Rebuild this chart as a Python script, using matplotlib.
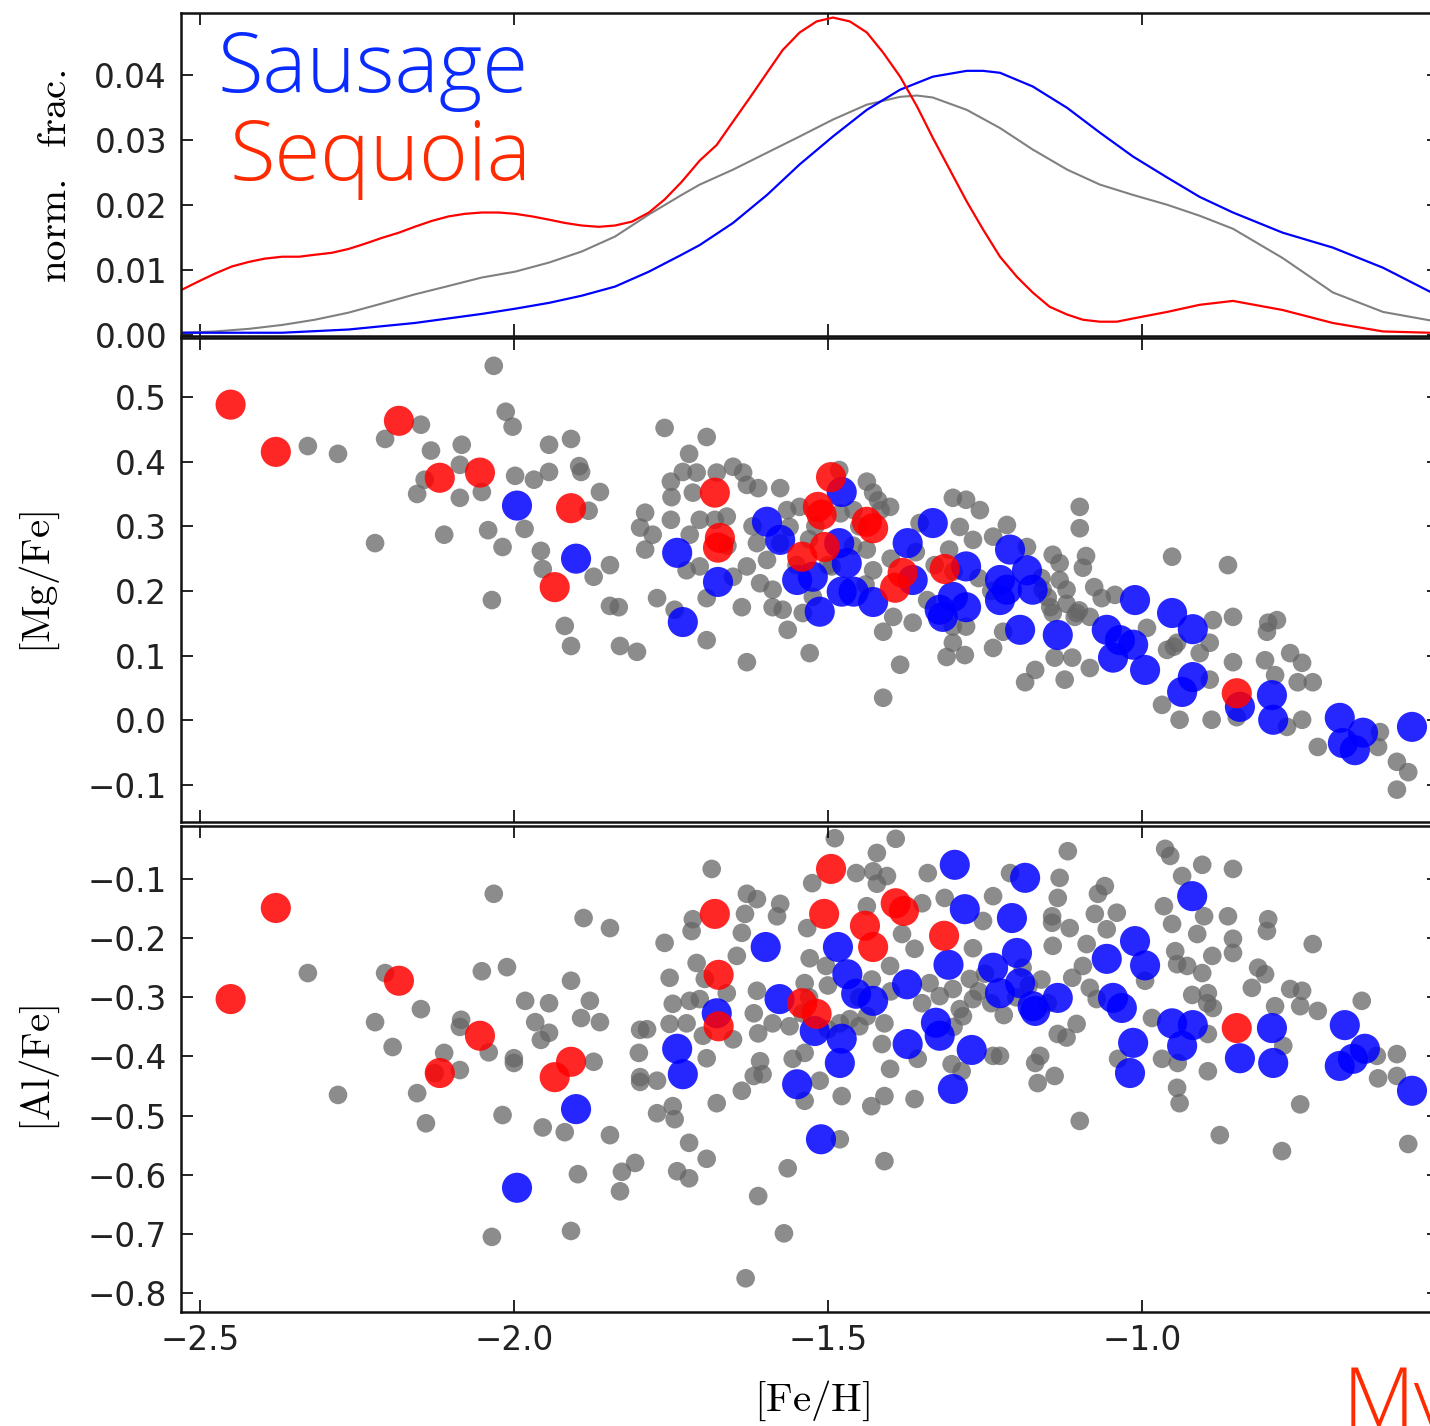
import matplotlib
matplotlib.use('Agg')
import matplotlib.pyplot as plt
from matplotlib.ticker import FuncFormatter

plt.rcParams['mathtext.fontset'] = 'cm'

# ---- top panel: normalised [Fe/H] distributions ----
red_kde_feh = [-2.529, -2.502, -2.476, -2.449, -2.422, -2.397, -2.369, -2.342, -2.317, -2.290,
               -2.263, -2.237, -2.210, -2.183, -2.158, -2.131, -2.104, -2.078, -2.051, -2.024,
               -1.998, -1.971, -1.944, -1.919, -1.892, -1.865, -1.839, -1.812, -1.785, -1.760,
               -1.733, -1.704, -1.677, -1.651, -1.624, -1.597, -1.572, -1.545, -1.518, -1.492,
               -1.465, -1.438, -1.412, -1.385, -1.358, -1.333, -1.306, -1.279, -1.253, -1.226,
               -1.199, -1.174, -1.147, -1.119, -1.094, -1.067, -1.040, -1.014, -0.960, -0.908,
               -0.855, -0.776, -0.696, -0.616, -0.541]
red_kde = [0.0069, 0.0082, 0.0094, 0.0105, 0.0112, 0.0117, 0.0120, 0.0120, 0.0123, 0.0126,
           0.0132, 0.0140, 0.0149, 0.0157, 0.0166, 0.0175, 0.0182, 0.0186, 0.0188, 0.0188,
           0.0186, 0.0182, 0.0177, 0.0172, 0.0168, 0.0166, 0.0168, 0.0174, 0.0188, 0.0208,
           0.0235, 0.0268, 0.0292, 0.0328, 0.0365, 0.0403, 0.0438, 0.0465, 0.0482, 0.0488,
           0.0482, 0.0465, 0.0434, 0.0397, 0.0351, 0.0303, 0.0254, 0.0205, 0.0162, 0.0120,
           0.0089, 0.0065, 0.0043, 0.0031, 0.0023, 0.0020, 0.0020, 0.0025, 0.0035, 0.0046,
           0.0052, 0.0038, 0.0018, 0.0005, 0.0003]

blue_kde_feh = [-2.529, -2.369, -2.263, -2.158, -2.051, -1.998, -1.944, -1.892, -1.839, -1.785,
                -1.733, -1.704, -1.651, -1.597, -1.545, -1.492, -1.438, -1.385, -1.333, -1.279,
                -1.253, -1.226, -1.174, -1.119, -1.067, -1.014, -0.960, -0.908, -0.855, -0.776,
                -0.696, -0.616, -0.541]
blue_kde = [0.0003, 0.0003, 0.0008, 0.0018, 0.0032, 0.0040, 0.0049, 0.0060, 0.0074, 0.0097,
            0.0123, 0.0138, 0.0172, 0.0215, 0.0262, 0.0305, 0.0346, 0.0377, 0.0397, 0.0406,
            0.0406, 0.0403, 0.0382, 0.0349, 0.0311, 0.0274, 0.0242, 0.0212, 0.0188, 0.0157,
            0.0134, 0.0103, 0.0066]

all_kde_feh = [-2.529, -2.476, -2.422, -2.369, -2.317, -2.263, -2.210, -2.158, -2.104, -2.051,
               -1.998, -1.944, -1.892, -1.839, -1.785, -1.733, -1.704, -1.651, -1.597, -1.545,
               -1.492, -1.438, -1.385, -1.358, -1.333, -1.279, -1.226, -1.174, -1.119, -1.067,
               -1.014, -0.960, -0.908, -0.855, -0.776, -0.696, -0.616, -0.541]
all_kde = [0.0003, 0.0005, 0.0009, 0.0015, 0.0023, 0.0034, 0.0048, 0.0062, 0.0075, 0.0088,
           0.0097, 0.0111, 0.0128, 0.0151, 0.0185, 0.0215, 0.0231, 0.0254, 0.0280, 0.0305,
           0.0331, 0.0354, 0.0366, 0.0368, 0.0365, 0.0346, 0.0318, 0.0285, 0.0254, 0.0231,
           0.0215, 0.0200, 0.0183, 0.0163, 0.0118, 0.0065, 0.0035, 0.0022]

# ---- middle panel: [Mg/Fe] vs [Fe/H] ----
gray_mg_feh = [
    -2.328, -2.280, -2.205, -2.148, -2.132, -2.083, -2.086, -2.142, -2.154, -2.086, -2.051, -2.032,
    -2.013, -2.002, -1.998, -1.968, -1.944, -1.909, -1.944, -1.896, -1.893, -1.863, -1.881, -2.221,
    -2.111, -2.041, -2.018, -1.983, -1.957, -1.954, -1.873, -1.847, -2.035, -1.919, -1.909, -1.847,
    -1.833, -1.831,
    -1.760, -1.693, -1.721, -1.750, -1.731, -1.709, -1.749, -1.715, -1.677, -1.651, -1.635, -1.629,
    -1.611, -1.576, -1.791, -1.750, -1.799, -1.779, -1.720, -1.704, -1.661, -1.791, -1.725, -1.704,
    -1.651, -1.629, -1.608, -1.588, -1.597, -1.613, -1.565, -1.545, -1.561, -1.576, -1.772, -1.744,
    -1.693, -1.637, -1.572, -1.540, -1.564, -1.804, -1.693, -1.629, -1.529, -1.412, -1.385, -1.412,
    -1.396, -1.365, -1.438, -1.482, -1.428, -1.401, -1.416, -1.459, -1.438, -1.428, -1.354, -1.301,
    -1.280, -1.258, -1.290, -1.269, -1.215, -1.237, -1.183, -1.307, -1.342, -1.301, -1.280, -1.301,
    -1.311, -1.282, -1.237, -1.221, -1.524, -1.494, -1.588,
    -1.52, -1.48, -1.45, -1.46, -1.50, -1.44, -1.40, -1.53, -1.42, -1.36, -1.33, -1.26, -1.24,
    -1.30, -1.16, -1.15, -1.12, -1.10, -1.55, -1.62, -1.66, -1.68,
    -1.099, -1.099, -1.142, -1.131, -1.089, -1.094, -0.952, -0.863, -1.076, -1.064, -1.043, -1.120,
    -1.142, -1.107, -1.083, -0.992, -0.887, -0.855, -0.799, -0.801, -0.960, -0.944, -0.892, -0.764,
    -0.745, -0.855, -0.804, -0.788, -0.752, -0.728, -0.908, -1.139, -1.111, -1.170, -1.186, -1.123,
    -1.083, -0.968, -0.940, -0.889, -0.849, -0.745, -0.769, -0.720, -0.624, -0.621, -0.594, -0.576,
    -0.594, -0.892, -0.949, -0.785, -1.131, -1.158, -1.146, -1.104]
gray_mg = [
    0.424, 0.412, 0.435, 0.457, 0.417, 0.426, 0.395, 0.372, 0.350, 0.344, 0.353, 0.548,
    0.477, 0.454, 0.378, 0.372, 0.426, 0.435, 0.384, 0.393, 0.384, 0.353, 0.324, 0.274,
    0.287, 0.294, 0.268, 0.296, 0.262, 0.234, 0.222, 0.240, 0.186, 0.146, 0.115, 0.177,
    0.175, 0.115,
    0.452, 0.438, 0.412, 0.369, 0.384, 0.383, 0.345, 0.352, 0.383, 0.392, 0.383, 0.364,
    0.359, 0.359, 0.321, 0.310, 0.298, 0.287, 0.287, 0.310, 0.315, 0.264, 0.232, 0.238,
    0.222, 0.238, 0.212, 0.202, 0.248, 0.274, 0.325, 0.330, 0.299, 0.274, 0.189, 0.171,
    0.189, 0.175, 0.171, 0.166, 0.140, 0.106, 0.124, 0.090, 0.104, 0.035, 0.086, 0.137,
    0.160, 0.151, 0.369, 0.387, 0.352, 0.330, 0.325, 0.325, 0.264, 0.232, 0.305, 0.344,
    0.341, 0.325, 0.299, 0.279, 0.302, 0.284, 0.268, 0.264, 0.186, 0.145, 0.145, 0.120,
    0.098, 0.101, 0.112, 0.137, 0.191, 0.238, 0.175,
    0.30, 0.32, 0.30, 0.27, 0.24, 0.21, 0.25, 0.28, 0.34, 0.26, 0.24, 0.22, 0.20,
    0.23, 0.22, 0.19, 0.18, 0.17, 0.24, 0.30, 0.27, 0.31,
    0.330, 0.297, 0.256, 0.243, 0.254, 0.236, 0.253, 0.240, 0.206, 0.189, 0.194, 0.202,
    0.166, 0.160, 0.160, 0.143, 0.155, 0.160, 0.151, 0.137, 0.109, 0.120, 0.120, 0.104,
    0.089, 0.090, 0.093, 0.070, 0.059, 0.059, 0.104, 0.097, 0.097, 0.078, 0.059, 0.063,
    0.081, 0.024, 0.001, 0.001, 0.005, 0.001, -0.010, -0.041, -0.041, -0.018, -0.064, -0.080,
    -0.107, 0.063, 0.114, 0.155, 0.217, 0.202, 0.175, 0.166]

blue_mg_feh = [-1.995, -1.901, -1.740, -1.675, -1.731, -1.597, -1.576, -1.478, -1.482, -1.470,
               -1.549, -1.524, -1.513, -1.478, -1.459, -1.428, -1.373, -1.365, -1.333, -1.322,
               -1.301, -1.280, -1.280, -1.210, -1.226, -1.183, -1.174, -1.226, -1.194, -1.317,
               -1.215, -1.134, -1.011, -0.952, -0.919, -1.056, -1.035, -1.014, -1.046, -0.995,
               -0.919, -0.936, -0.844, -0.793, -0.791, -0.685, -0.648, -0.680, -0.661, -0.570]
blue_mg = [0.332, 0.250, 0.259, 0.214, 0.152, 0.307, 0.279, 0.353, 0.274, 0.243,
           0.217, 0.222, 0.168, 0.199, 0.199, 0.183, 0.274, 0.217, 0.305, 0.171,
           0.191, 0.175, 0.238, 0.264, 0.217, 0.232, 0.202, 0.186, 0.140, 0.160,
           0.202, 0.132, 0.186, 0.166, 0.141, 0.140, 0.124, 0.117, 0.097, 0.078,
           0.067, 0.044, 0.021, 0.039, 0.001, 0.004, -0.019, -0.035, -0.046, -0.010]

red_mg_feh = [-2.451, -2.379, -2.183, -2.118, -2.054, -1.909, -1.935, -1.680, -1.672, -1.675,
              -1.495, -1.516, -1.510, -1.438, -1.428, -1.505, -1.541, -1.381, -1.393, -1.314,
              -0.849]
red_mg = [0.488, 0.415, 0.463, 0.375, 0.383, 0.328, 0.206, 0.352, 0.282, 0.267,
          0.376, 0.330, 0.318, 0.307, 0.297, 0.268, 0.253, 0.228, 0.205, 0.234,
          0.042]

# ---- bottom panel: [Al/Fe] vs [Fe/H] ----
gray_al_feh = [
    -2.328, -2.280, -2.205, -2.221, -2.193, -2.148, -2.111, -2.084, -2.086, -2.086, -2.126, -2.154,
    -2.140, -2.040, -2.051, -2.032, -2.011, -2.000, -2.000, -2.018, -2.035, -1.982, -1.944, -1.966,
    -1.944, -1.957, -1.909, -1.889, -1.847, -1.879, -1.893, -1.863, -1.873, -1.954, -1.919, -1.847,
    -1.898, -1.909, -1.828, -1.807, -1.831, -1.799, -1.801, -1.799, -1.799,
    -1.685, -1.629, -1.613, -1.576, -1.581, -1.632, -1.715, -1.717, -1.637, -1.760, -1.709, -1.645,
    -1.752, -1.696, -1.613, -1.747, -1.720, -1.704, -1.661, -1.788, -1.752, -1.725, -1.699, -1.651,
    -1.618, -1.611, -1.588, -1.693, -1.608, -1.618, -1.604, -1.772, -1.637, -1.677, -1.747, -1.772,
    -1.744, -1.556, -1.537, -1.513, -1.537, -1.537, -1.529, -1.533, -1.525, -1.489, -1.503, -1.500,
    -1.481, -1.478, -1.481, -1.564, -1.611, -1.570, -1.631, -1.721, -1.693, -1.740, -1.721, -1.410,
    -1.422, -1.392, -1.455, -1.428, -1.406, -1.422, -1.438, -1.382, -1.350, -1.341, -1.314, -1.237,
    -1.253, -1.362, -1.269, -1.401, -1.410, -1.414, -1.401, -1.362, -1.431, -1.410, -1.357, -1.303,
    -1.287, -1.237, -1.170, -1.166, -1.301, -1.274, -1.269, -1.285, -1.322, -1.338, -1.290, -1.450,
    -1.465, -1.438, -1.541, -1.561,
    -1.26, -1.24, -1.22, -1.20, -1.18, -1.16, -1.15, -1.19, -1.25, -1.45, -1.43, -1.50, -1.53,
    -1.40, -1.35, -1.30,
    -1.118, -1.131, -1.134, -1.210, -1.143, -1.143, -1.115, -1.059, -1.070, -1.075, -1.040, -1.056,
    -1.088, -1.142, -0.963, -0.955, -0.936, -0.904, -0.855, -0.965, -0.952, -0.912, -0.901, -0.863,
    -0.855, -0.855, -0.799, -0.801, -0.728, -0.947, -0.944, -0.928, -0.904, -0.888, -0.815, -0.804,
    -0.825, -0.920, -0.895, -0.896, -0.887, -0.895, -0.984, -0.968, -0.943, -0.895, -0.944, -0.940,
    -1.038, -0.995, -1.094, -1.111, -1.083, -1.072, -1.104, -1.134, -1.120, -1.162, -1.139, -1.226,
    -1.099, -0.876, -0.777, -0.748, -0.576, -0.594, -0.624, -0.594, -0.626, -0.650, -0.764, -0.745,
    -0.748, -0.720, -0.788, -0.775]
gray_al = [
    -0.259, -0.465, -0.259, -0.342, -0.384, -0.320, -0.394, -0.338, -0.350, -0.423, -0.428, -0.462,
    -0.513, -0.393, -0.256, -0.125, -0.249, -0.403, -0.411, -0.499, -0.705, -0.306, -0.310, -0.342,
    -0.360, -0.372, -0.272, -0.166, -0.183, -0.306, -0.335, -0.342, -0.409, -0.520, -0.528, -0.533,
    -0.599, -0.695, -0.595, -0.580, -0.628, -0.355, -0.394, -0.435, -0.443,
    -0.083, -0.125, -0.134, -0.142, -0.163, -0.159, -0.168, -0.188, -0.191, -0.208, -0.242, -0.230,
    -0.267, -0.269, -0.289, -0.311, -0.306, -0.303, -0.293, -0.354, -0.345, -0.344, -0.365, -0.371,
    -0.327, -0.361, -0.344, -0.403, -0.408, -0.433, -0.430, -0.441, -0.458, -0.479, -0.484, -0.496,
    -0.506, -0.404, -0.394, -0.441, -0.475, -0.276, -0.234, -0.183, -0.107, -0.031, -0.247, -0.354,
    -0.344, -0.467, -0.540, -0.589, -0.636, -0.699, -0.775, -0.546, -0.573, -0.594, -0.606, -0.577,
    -0.056, -0.032, -0.090, -0.087, -0.095, -0.108, -0.146, -0.193, -0.141, -0.090, -0.132, -0.129,
    -0.171, -0.218, -0.217, -0.247, -0.344, -0.379, -0.421, -0.472, -0.484, -0.467, -0.404, -0.413,
    -0.425, -0.399, -0.411, -0.445, -0.286, -0.269, -0.303, -0.332, -0.298, -0.276, -0.320, -0.349,
    -0.337, -0.332, -0.327, -0.349,
    -0.29, -0.31, -0.33, -0.30, -0.28, -0.27, -0.31, -0.25, -0.26, -0.30, -0.27, -0.28, -0.30,
    -0.29, -0.31, -0.35,
    -0.053, -0.098, -0.132, -0.090, -0.163, -0.174, -0.183, -0.112, -0.125, -0.159, -0.157, -0.185,
    -0.210, -0.213, -0.049, -0.061, -0.095, -0.076, -0.083, -0.146, -0.176, -0.193, -0.163, -0.163,
    -0.201, -0.225, -0.168, -0.188, -0.210, -0.222, -0.244, -0.247, -0.259, -0.230, -0.250, -0.261,
    -0.284, -0.296, -0.293, -0.310, -0.318, -0.362, -0.335, -0.404, -0.411, -0.425, -0.453, -0.479,
    -0.404, -0.272, -0.247, -0.267, -0.284, -0.303, -0.345, -0.362, -0.368, -0.399, -0.433, -0.399,
    -0.509, -0.533, -0.560, -0.481, -0.548, -0.396, -0.437, -0.433, -0.399, -0.306, -0.286, -0.289,
    -0.315, -0.323, -0.315, -0.382]

blue_al_feh = [-1.901, -1.995, -1.599, -1.740, -1.731, -1.677, -1.577, -1.484, -1.469, -1.455,
               -1.428, -1.521, -1.478, -1.481, -1.549, -1.511, -1.374, -1.373, -1.328, -1.322,
               -1.271, -1.301, -1.308, -1.298, -1.282, -1.207, -1.186, -1.237, -1.199, -1.226,
               -1.194, -1.174, -0.920, -1.056, -1.011, -0.995, -1.134, -1.046, -1.032, -1.170,
               -0.952, -0.919, -0.936, -1.014, -1.019, -0.793, -0.844, -0.791, -0.677, -0.645,
               -0.664, -0.685, -0.570]
blue_al = [-0.489, -0.622, -0.215, -0.387, -0.430, -0.327, -0.303, -0.215, -0.261, -0.294,
           -0.306, -0.357, -0.370, -0.411, -0.447, -0.540, -0.278, -0.379, -0.343, -0.365,
           -0.389, -0.455, -0.245, -0.076, -0.151, -0.166, -0.098, -0.250, -0.225, -0.293,
           -0.276, -0.315, -0.129, -0.235, -0.205, -0.246, -0.301, -0.301, -0.318, -0.323,
           -0.344, -0.347, -0.382, -0.377, -0.428, -0.352, -0.403, -0.411, -0.347, -0.387,
           -0.404, -0.416, -0.458]

red_al_feh = [-2.451, -2.379, -2.183, -2.118, -2.054, -1.909, -1.935, -1.680, -1.674, -1.674,
              -1.495, -1.506, -1.441, -1.428, -1.392, -1.379, -1.315, -1.541, -1.518, -0.849]
red_al = [-0.303, -0.149, -0.272, -0.428, -0.365, -0.409, -0.435, -0.159, -0.262, -0.349,
          -0.083, -0.159, -0.179, -0.215, -0.141, -0.154, -0.196, -0.310, -0.328, -0.352]

feh_ticks = [-2.5, -2.0, -1.5, -1.0]
frac_ticks = [0.00, 0.01, 0.02, 0.03, 0.04]
mg_ticks = [-0.1, 0.0, 0.1, 0.2, 0.3, 0.4, 0.5]
al_ticks = [-0.8, -0.7, -0.6, -0.5, -0.4, -0.3, -0.2, -0.1]


def fmt(decimals):
    return FuncFormatter(lambda v, pos: ('%.*f' % (decimals, v)).replace('-', '\u2212'))


W, H = 1430, 1426
fig = plt.figure(figsize=(W / 100, H / 100), dpi=100)

# axes run a little past the right edge, like the cropped original
left = 181 / W
width = (1439 - 181) / W
ax_top = fig.add_axes([left, 1 - 336 / H, width, (336 - 13) / H])
ax_mg = fig.add_axes([left, 1 - 822 / H, width, (822 - 338) / H])
ax_al = fig.add_axes([left, 1 - 1312 / H, width, (1312 - 826) / H])

ax_top.plot(all_kde_feh, all_kde, color='gray', lw=1.5)
ax_top.plot(blue_kde_feh, blue_kde, color='b', lw=1.6)
ax_top.plot(red_kde_feh, red_kde, color='r', lw=1.6)

gray_kw = dict(s=180, color='0.4', alpha=0.75, edgecolors='none')
big_kw = dict(s=470, alpha=0.85, edgecolors='none')

ax_mg.scatter(gray_mg_feh, gray_mg, **gray_kw)
ax_mg.scatter(blue_mg_feh, blue_mg, color='b', **big_kw)
ax_mg.scatter(red_mg_feh, red_mg, color='r', **big_kw)

ax_al.scatter(gray_al_feh, gray_al, **gray_kw)
ax_al.scatter(blue_al_feh, blue_al, color='b', **big_kw)
ax_al.scatter(red_al_feh, red_al, color='r', **big_kw)

ax_top.set_ylim(-0.0002, 0.0495)
ax_mg.set_ylim(-0.157, 0.591)
ax_al.set_ylim(-0.832, -0.0104)
ax_top.set_yticks(frac_ticks)
ax_mg.set_yticks(mg_ticks)
ax_al.set_yticks(al_ticks)
ax_top.yaxis.set_major_formatter(fmt(2))
ax_mg.yaxis.set_major_formatter(fmt(1))
ax_al.yaxis.set_major_formatter(fmt(1))

for ax in (ax_top, ax_mg, ax_al):
    ax.set_xlim(-2.53, -0.527)
    ax.set_xticks(feh_ticks)
    ax.xaxis.set_major_formatter(fmt(1))
    ax.tick_params(direction='in', length=8.5, width=1.2, top=True, right=True,
                   labelsize=23.5, pad=10, colors='black', labelcolor='#222222')
    for sp in ax.spines.values():
        sp.set_linewidth(1.8)
        sp.set_color('#111111')
for ax in (ax_top, ax_mg):
    ax.tick_params(labelbottom=False)
ax_al.tick_params(axis='x', pad=9)

serif = 29.5
fig.text(55 / W, 1 - 176 / H, r'$\mathrm{norm.\ \ frac.}$', rotation=90,
         ha='center', va='center', fontsize=serif)
fig.text(40 / W, 1 - 582 / H, r'$\mathrm{[Mg/Fe]}$', rotation=90,
         ha='center', va='center', fontsize=serif)
fig.text(40 / W, 1 - 1068 / H, r'$\mathrm{[Al/Fe]}$', rotation=90,
         ha='center', va='center', fontsize=serif)
fig.text(812 / W, 1 - 1401 / H, r'$\mathrm{[Fe/H]}$', ha='center', va='center',
         fontsize=serif)

title_font = dict(family=['Open Sans', 'DejaVu Sans'], fontweight='light', fontsize=60)
fig.text(218 / W, 1 - 92 / H, 'Sausage', color='#0a2bff', ha='left', va='baseline',
         **title_font)
fig.text(230 / W, 1 - 180 / H, 'Sequoia', color='#ff2a00', ha='left', va='baseline',
         **title_font)
fig.text(1343 / W, 1 - 1427 / H, 'My', color='#ff2a00', ha='left', va='baseline',
         **title_font)

fig.savefig('out.png', dpi=100)
